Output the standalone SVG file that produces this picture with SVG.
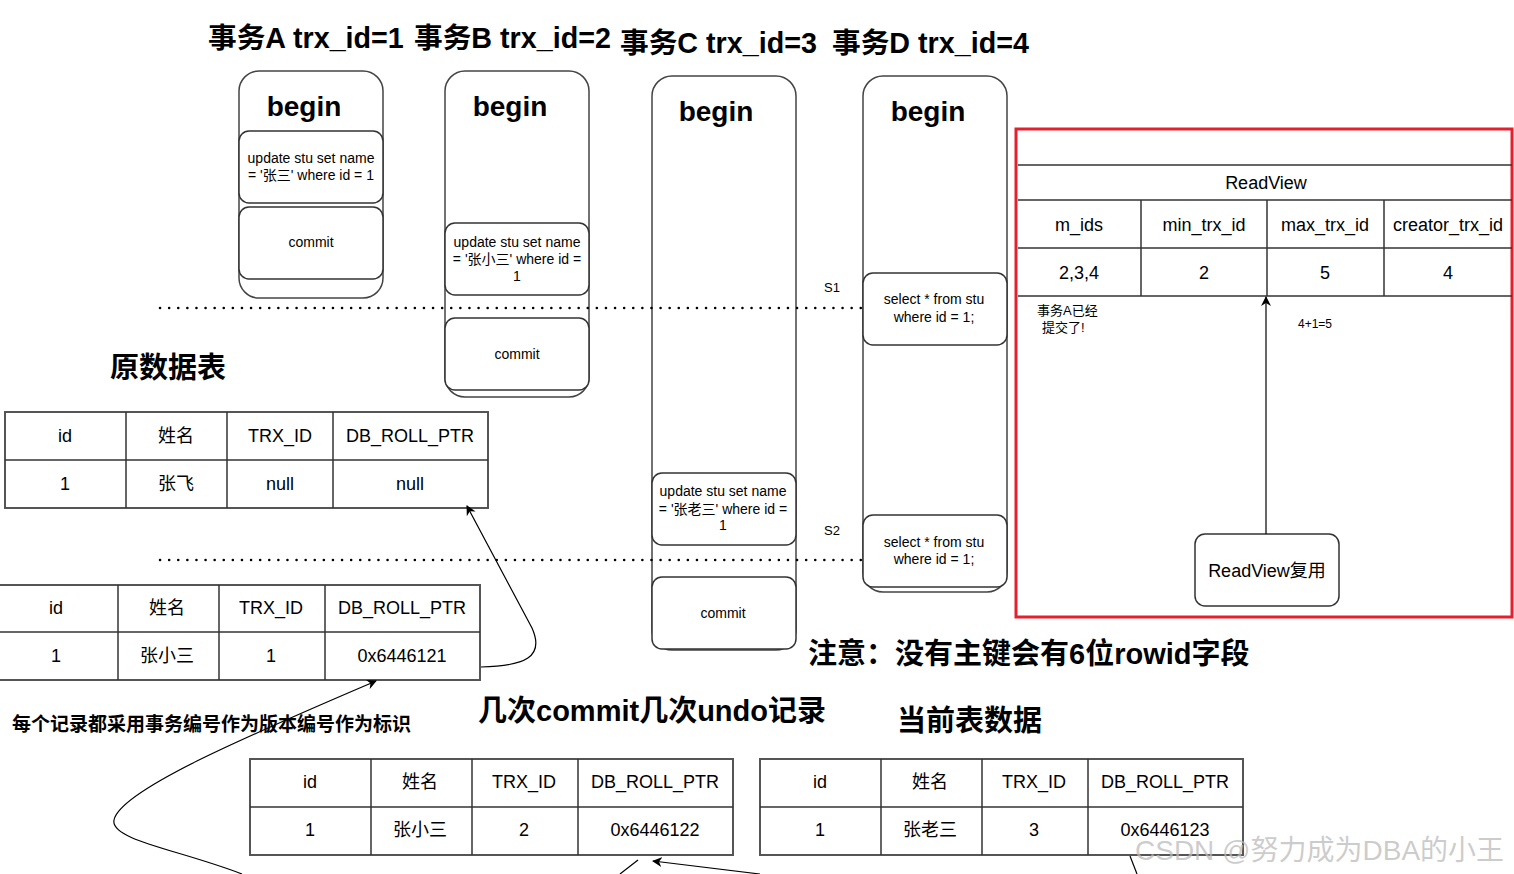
<svg xmlns="http://www.w3.org/2000/svg" width="1514" height="874" viewBox="0 0 1514 874">
<defs>
<style>
text{font-family:"Liberation Sans","Noto Sans CJK SC",sans-serif;fill:#000}
.t{font-size:28.7px;font-weight:bold}
.h{font-size:29px;font-weight:bold}
.bg{font-size:28px;font-weight:bold;text-anchor:middle}
.sm{font-size:14px;text-anchor:middle}
.c{font-size:18px;text-anchor:middle;dominant-baseline:central}
.lane{fill:#fff;stroke:#444;stroke-width:1.5}
.box{fill:#fff;stroke:#333;stroke-width:1.5}
.tb{fill:#fff;stroke:#555;stroke-width:2}
.ln{stroke:#333;stroke-width:1.5;fill:none}
.dot{stroke:#000;stroke-width:2.5;stroke-dasharray:0.1 9;stroke-linecap:round;fill:none}
.conn{stroke:#000;stroke-width:1.2;fill:none}
</style>
<marker id="ah" viewBox="0 0 10 10" refX="9" refY="5" markerWidth="10" markerHeight="10" markerUnits="userSpaceOnUse" orient="auto">
<path d="M0,0 L10,5 L0,10 L3,5 z" fill="#000"/>
</marker>
</defs>

<g id="titles">
<text class="t" x="208" y="48">事务A trx_id=1</text>
<text class="t" x="414" y="48">事务B trx_id=2</text>
<text class="t" x="620" y="53">事务C trx_id=3</text>
<text class="t" x="832" y="53">事务D trx_id=4</text>
</g>

<g id="laneA">
<rect class="lane" x="239" y="71" width="144" height="227" rx="20"/>
<text class="bg" x="304" y="116">begin</text>
<rect class="box" x="239" y="131" width="144" height="72" rx="10"/>
<text class="sm" x="311" y="163">update stu set name</text>
<text class="sm" x="311" y="180">= '张三' where id = 1</text>
<rect class="box" x="239" y="207" width="144" height="72" rx="10"/>
<text class="sm" x="311" y="247">commit</text>
</g>

<g id="laneB">
<rect class="lane" x="445" y="71" width="144" height="326" rx="20"/>
<text class="bg" x="510" y="116">begin</text>
<rect class="box" x="445" y="223" width="144" height="72" rx="10"/>
<text class="sm" x="517" y="247">update stu set name</text>
<text class="sm" x="517" y="264">= '张小三' where id =</text>
<text class="sm" x="517" y="281">1</text>
<rect class="box" x="445" y="318" width="144" height="72" rx="10"/>
<text class="sm" x="517" y="359">commit</text>
</g>

<g id="laneC">
<rect class="lane" x="652" y="76" width="144" height="574" rx="20"/>
<text class="bg" x="716" y="121">begin</text>
<rect class="box" x="652" y="473" width="144" height="72" rx="10"/>
<text class="sm" x="723" y="496">update stu set name</text>
<text class="sm" x="723" y="514">= '张老三' where id =</text>
<text class="sm" x="723" y="530">1</text>
<rect class="box" x="652" y="577" width="144" height="72" rx="10"/>
<text class="sm" x="723" y="618">commit</text>
</g>

<g id="laneD">
<rect class="lane" x="863" y="76" width="144" height="516" rx="20"/>
<text class="bg" x="928" y="121">begin</text>
<rect class="box" x="863" y="273" width="144" height="72" rx="10"/>
<text class="sm" x="934" y="304">select * from stu</text>
<text class="sm" x="934" y="322">where id = 1;</text>
<rect class="box" x="863" y="515" width="144" height="72" rx="10"/>
<text class="sm" x="934" y="547">select * from stu</text>
<text class="sm" x="934" y="564">where id = 1;</text>
</g>

<g id="dotted">
<line class="dot" x1="160" y1="308" x2="863" y2="308"/>
<line class="dot" x1="160" y1="560" x2="863" y2="560"/>
</g>

<g id="labels">
<text style="font-size:13px" x="824" y="292">S1</text>
<text style="font-size:13px" x="824" y="535">S2</text>
</g>

<g id="readview">
<rect x="1016" y="129" width="496" height="488" fill="#fff" stroke="#e5202e" stroke-width="3"/>
<line class="ln" x1="1018" y1="165" x2="1512" y2="165"/>
<text class="c" x="1266" y="183">ReadView</text>
<line class="ln" x1="1018" y1="200" x2="1512" y2="200"/>
<line class="ln" x1="1018" y1="248" x2="1512" y2="248"/>
<line class="ln" x1="1018" y1="296" x2="1512" y2="296"/>
<line class="ln" x1="1141" y1="200" x2="1141" y2="296"/>
<line class="ln" x1="1267" y1="200" x2="1267" y2="296"/>
<line class="ln" x1="1384" y1="200" x2="1384" y2="296"/>
<text class="c" x="1079" y="225">m_ids</text>
<text class="c" x="1204" y="225">min_trx_id</text>
<text class="c" x="1325" y="225">max_trx_id</text>
<text class="c" x="1448" y="225">creator_trx_id</text>
<text class="c" x="1079" y="273">2,3,4</text>
<text class="c" x="1204" y="273">2</text>
<text class="c" x="1325" y="273">5</text>
<text class="c" x="1448" y="273">4</text>
<text style="font-size:13px" x="1037" y="315">事务A已经</text>
<text style="font-size:13px" x="1042" y="332">提交了!</text>
<text style="font-size:12px" x="1298" y="328">4+1=5</text>
</g>

<g id="reuse">
<rect class="box" x="1195" y="534" width="144" height="72" rx="10"/>
<text class="c" x="1267" y="571">ReadView复用</text>
</g>

<g id="headings">
<text class="h" x="110" y="378">原数据表</text>
<text class="h" style="font-size:19px" x="12" y="731">每个记录都采用事务编号作为版本编号作为标识</text>
<text class="h" x="478" y="721">几次commit几次undo记录</text>
<text class="h" x="808" y="664">注意：没有主键会有6位rowid字段</text>
<text class="h" x="897" y="731">当前表数据</text>
</g>

<g id="table1">
<rect class="tb" x="5" y="412" width="483" height="96"/>
<line class="ln" x1="5" y1="460" x2="488" y2="460"/>
<line class="ln" x1="126" y1="412" x2="126" y2="508"/>
<line class="ln" x1="227" y1="412" x2="227" y2="508"/>
<line class="ln" x1="333" y1="412" x2="333" y2="508"/>
<text class="c" x="65" y="436">id</text>
<text class="c" x="176" y="436">姓名</text>
<text class="c" x="280" y="436">TRX_ID</text>
<text class="c" x="410" y="436">DB_ROLL_PTR</text>
<text class="c" x="65" y="484">1</text>
<text class="c" x="176" y="484">张飞</text>
<text class="c" x="280" y="484">null</text>
<text class="c" x="410" y="484">null</text>
</g>

<g id="table2">
<rect class="tb" x="-2" y="585" width="482" height="95"/>
<line class="ln" x1="0" y1="632" x2="480" y2="632"/>
<line class="ln" x1="118" y1="585" x2="118" y2="680"/>
<line class="ln" x1="219" y1="585" x2="219" y2="680"/>
<line class="ln" x1="325" y1="585" x2="325" y2="680"/>
<text class="c" x="56" y="608">id</text>
<text class="c" x="167" y="608">姓名</text>
<text class="c" x="271" y="608">TRX_ID</text>
<text class="c" x="402" y="608">DB_ROLL_PTR</text>
<text class="c" x="56" y="656">1</text>
<text class="c" x="167" y="656">张小三</text>
<text class="c" x="271" y="656">1</text>
<text class="c" x="402" y="656">0x6446121</text>
</g>

<g id="table3">
<rect class="tb" x="250" y="759" width="483" height="96"/>
<line class="ln" x1="250" y1="807" x2="733" y2="807"/>
<line class="ln" x1="371" y1="759" x2="371" y2="855"/>
<line class="ln" x1="472" y1="759" x2="472" y2="855"/>
<line class="ln" x1="578" y1="759" x2="578" y2="855"/>
<text class="c" x="310" y="782">id</text>
<text class="c" x="420" y="782">姓名</text>
<text class="c" x="524" y="782">TRX_ID</text>
<text class="c" x="655" y="782">DB_ROLL_PTR</text>
<text class="c" x="310" y="830">1</text>
<text class="c" x="420" y="830">张小三</text>
<text class="c" x="524" y="830">2</text>
<text class="c" x="655" y="830">0x6446122</text>
</g>

<g id="table4">
<rect class="tb" x="760" y="759" width="483" height="96"/>
<line class="ln" x1="760" y1="807" x2="1243" y2="807"/>
<line class="ln" x1="881" y1="759" x2="881" y2="855"/>
<line class="ln" x1="982" y1="759" x2="982" y2="855"/>
<line class="ln" x1="1088" y1="759" x2="1088" y2="855"/>
<text class="c" x="820" y="782">id</text>
<text class="c" x="930" y="782">姓名</text>
<text class="c" x="1034" y="782">TRX_ID</text>
<text class="c" x="1165" y="782">DB_ROLL_PTR</text>
<text class="c" x="820" y="830">1</text>
<text class="c" x="930" y="830">张老三</text>
<text class="c" x="1034" y="830">3</text>
<text class="c" x="1165" y="830">0x6446123</text>
</g>

<g id="connectors">
<line class="conn" x1="1266" y1="534" x2="1266" y2="297" marker-end="url(#ah)"/>
<path class="conn" d="M481,667 C525,666 545,657 532,628 L467,506" marker-end="url(#ah)"/>
<path class="conn" d="M242,874 C180,850 110,840 114,820 C120,790 250,735 376,681" marker-end="url(#ah)"/>
<line class="conn" x1="760" y1="874" x2="653" y2="861" marker-end="url(#ah)"/>
<line class="conn" x1="620" y1="874" x2="638" y2="860"/>
<line class="conn" x1="1130" y1="856" x2="1137" y2="874"/>
</g>

<g id="watermark">
<text x="1135" y="860" style="font-size:28px;fill:#bbb;fill-opacity:0.75">CSDN @努力成为DBA的小王</text>
</g>
</svg>
